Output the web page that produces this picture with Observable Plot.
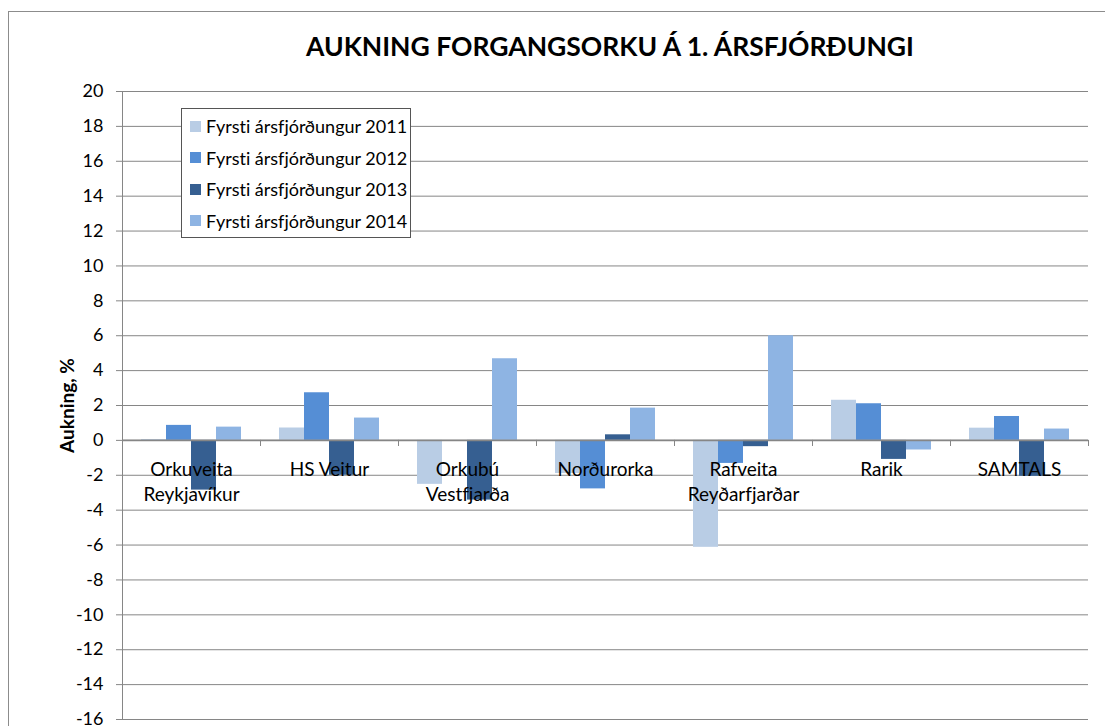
<!DOCTYPE html>
<html><head><meta charset="utf-8">
<script src="https://cdn.jsdelivr.net/npm/d3@7"></script>
<script src="https://cdn.jsdelivr.net/npm/@observablehq/plot@0.6"></script>
<style>
body{margin:0;background:#fff;font-family:Lato,"Open Sans",sans-serif;font-variant-ligatures:none;}
svg, svg text{font-variant-ligatures:none;}
#wrap{position:relative;width:1105px;height:726px;overflow:hidden;background:#fff;}
#frame{position:absolute;left:8px;top:11px;width:1200px;height:800px;border-left:1px solid #8c8c8c;border-top:1px solid #8c8c8c;}
#title{position:absolute;left:0;width:1220px;top:33px;text-align:center;font-weight:bold;font-size:26.5px;line-height:26px;color:#000;}
#chart{position:absolute;left:0;top:0;}
#legend{position:absolute;left:181px;top:108px;width:228px;height:128px;border:1px solid #555;background:#fff;}
.row{position:absolute;left:8px;height:20px;display:flex;align-items:center;font-size:18px;color:#000;white-space:nowrap;}
.sw{width:11px;height:11px;margin-right:5px;}
</style></head>
<body>
<div id="wrap">
  <div id="frame"></div>
  <div id="chart"></div>
  <div id="title"></div>
  <div id="legend"></div>
</div>
<script>
const titleText = "AUKNING FORGANGSORKU Á 1. ÁRSFJÓRÐUNGI";
const yLabel = "Aukning, %";
const categories = ["Orkuveita\nReykjavíkur", "HS Veitur", "Orkubú\nVestfjarða", "Norðurorka", "Rafveita\nReyðarfjarðar", "Rarik", "SAMTALS"];
const series = ["Fyrsti ársfjórðungur 2011", "Fyrsti ársfjórðungur 2012", "Fyrsti ársfjórðungur 2013", "Fyrsti ársfjórðungur 2014"];
const v2011 = [0.05, 0.71, -2.52, -1.9, -6.13, 2.30, 0.70];
const v2012 = [0.86, 2.73, 0, -2.78, -1.32, 2.10, 1.37];
const v2013 = [-2.85, -2.0, -3.42, 0.32, -0.36, -1.09, -2.06];
const v2014 = [0.76, 1.28, 4.68, 1.85, 6.0, -0.55, 0.65];
const colors = ["#B9CDE5", "#558ED5", "#365F91", "#8EB4E3"];
const yTicks = [-16, -14, -12, -10, -8, -6, -4, -2, 0, 2, 4, 6, 8, 10, 12, 14, 16, 18, 20];

const valuesBySeries = [v2011, v2012, v2013, v2014];
const data = [];
categories.forEach((c, i) => series.forEach((s, j) => data.push({cat: c, series: s, value: valuesBySeries[j][i]})));

document.getElementById("title").textContent = titleText;

const grid = "#868686";
const chart = Plot.plot({
  width: 1105,
  height: 726,
  marginTop: 91,
  marginLeft: 122,
  marginRight: 17,
  marginBottom: 7,
  style: {fontFamily: "Lato, 'Open Sans', sans-serif", background: "transparent", color: "#000", fontVariantLigatures: "none"},
  fx: {domain: categories, padding: 0, axis: null},
  x: {domain: series, paddingInner: 0, paddingOuter: 0.76, axis: null},
  y: {domain: [-16, 20], axis: null},
  color: {domain: series, range: colors},
  marks: [
    Plot.gridY(yTicks, {stroke: grid, strokeOpacity: 1, strokeWidth: 1}),
    Plot.axisY(yTicks, {tickSize: 6, tickPadding: 13, fontSize: 18, stroke: grid, label: null, fill: "#000", tickFormat: d => String(d)}),
    Plot.axisY({ticks: [], label: yLabel, labelAnchor: "center", labelOffset: 62, labelArrow: "none", fontSize: 19, fontWeight: "bold", fill: "#000"}),
    Plot.frame({anchor: "left", facetAnchor: "left", stroke: grid}),
    Plot.barY(data, {fx: "cat", x: "series", y: "value", fill: "series"}),
    Plot.ruleY([0], {stroke: grid, strokeWidth: 1.6}),
    Plot.ruleX(categories, {fx: d => d, x: () => series[3], y1: 0, y2: -0.35, stroke: grid, dx: 31.5}),
    Plot.text(categories, {fx: d => d, y: () => 0, text: d => d, lineAnchor: "top", dy: 18, fontSize: 19, lineHeight: 1.32, fill: "#000"})
  ]
});
document.getElementById("chart").appendChild(chart);

const legend = document.getElementById("legend");
series.forEach((s, j) => {
  const row = document.createElement("div");
  row.className = "row";
  row.style.top = (7 + j * 31.6) + "px";
  const sw = document.createElement("div");
  sw.className = "sw";
  sw.style.background = colors[j];
  const t = document.createElement("span");
  t.textContent = s;
  row.appendChild(sw);
  row.appendChild(t);
  legend.appendChild(row);
});
</script>
</body></html>
